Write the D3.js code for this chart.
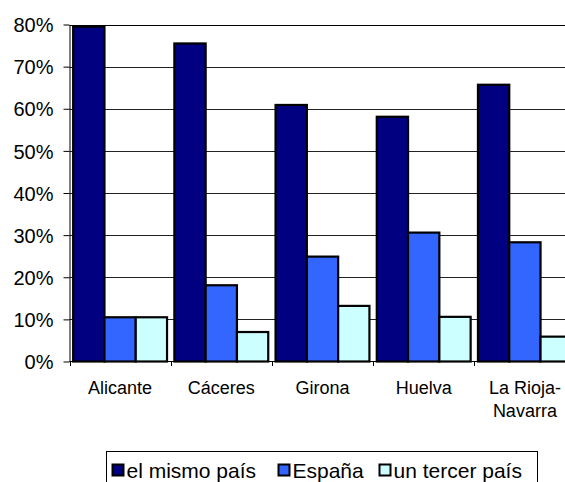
<!DOCTYPE html>
<html>
<head>
<meta charset="utf-8">
<script src="https://cdn.jsdelivr.net/npm/d3@7"></script>
<style>
  body { margin: 0; background: #fff; }
  text { font-family: Arial, "Liberation Sans", sans-serif; fill: #000; }
</style>
</head>
<body>
<div id="canvas"></div>
<script>
// data
var regions = ['Alicante', 'Cáceres', 'Girona', 'Huelva', 'La Rioja-\nNavarra'];
var series = ['el mismo país', 'España', 'un tercer país'];
var mismoPais = [0.795, 0.755, 0.609, 0.581, 0.657];
var espana = [0.105, 0.181, 0.249, 0.306, 0.283];
var tercerPais = [0.105, 0.070, 0.132, 0.106, 0.059];
var yTicks = [0, 0.1, 0.2, 0.3, 0.4, 0.5, 0.6, 0.7, 0.8];
var colors = ['#000080', '#3366ff', '#ccffff'];

var values = [mismoPais, espana, tercerPais];
var W = 565, H = 482;

var svg = d3.select('#canvas').append('svg')
    .attr('width', W)
    .attr('height', H);

var scaleX = d3.scaleBand()
    .domain(regions)
    .range([69.5, 575.5]);

var scaleS = d3.scaleBand()
    .domain(series)
    .range([0, scaleX.bandwidth()])
    .paddingOuter(0.117);

var scaleY = d3.scaleLinear()
    .domain([0, 0.8])
    .range([361.5, 24.5]);

// gridlines
svg.append('g').selectAll('line').data(yTicks.slice(1)).enter()
    .append('line')
    .attr('x1', 69.5).attr('x2', W)
    .attr('y1', function(d) { return Math.round(scaleY(d)) + 0.5; })
    .attr('y2', function(d) { return Math.round(scaleY(d)) + 0.5; })
    .style('stroke', function(d) { return d === 0.8 ? '#000' : '#222'; })
    .style('stroke-width', 1);

// bars
var groups = svg.append('g').selectAll('g').data(regions).enter()
    .append('g')
    .attr('transform', function(d) { return 'translate(' + scaleX(d) + ',0)'; });

groups.selectAll('rect')
    .data(function(d, i) { return series.map(function(s, j) { return {s: s, v: values[j][i], j: j}; }); })
    .enter().append('rect')
    .attr('x', function(d) { return scaleS(d.s); })
    .attr('width', scaleS.bandwidth())
    .attr('y', function(d) { return scaleY(d.v); })
    .attr('height', function(d) { return scaleY(0) - scaleY(d.v); })
    .style('fill', function(d) { return colors[d.j]; })
    .style('stroke', '#000')
    .style('stroke-width', 2.2);

// y axis
var yAxis = d3.axisLeft(scaleY)
    .tickValues(yTicks)
    .tickFormat(d3.format('.0%'))
    .tickSizeInner(6).tickSizeOuter(0).tickPadding(10);

var gy = svg.append('g')
    .attr('transform', 'translate(69.5,0)')
    .call(yAxis);
gy.select('.domain').style('stroke', '#000');
gy.selectAll('.tick line').style('stroke', '#000');
gy.selectAll('text').style('font-size', '20px').style('font-family', 'Arial, "Liberation Sans", sans-serif')
    .attr('dy', '0.36em');

// x axis
var boundaries = regions.map(function(d) { return scaleX(d); });
svg.append('line')
    .attr('x1', 69.5).attr('x2', W)
    .attr('y1', 361.5).attr('y2', 361.5)
    .style('stroke', '#000');
svg.append('g').selectAll('line').data(boundaries).enter()
    .append('line')
    .attr('x1', function(d) { return Math.round(d) + 0.5; })
    .attr('x2', function(d) { return Math.round(d) + 0.5; })
    .attr('y1', 361.5).attr('y2', 366)
    .style('stroke', '#000');

var xl = svg.append('g').selectAll('text').data(regions).enter()
    .append('text')
    .attr('x', function(d) { return scaleX(d) + scaleX.bandwidth() / 2; })
    .attr('y', 394)
    .attr('text-anchor', 'middle')
    .style('font-size', '18px');
xl.selectAll('tspan')
    .data(function(d) { return d.split('\n'); })
    .enter().append('tspan')
    .attr('x', function() { return d3.select(this.parentNode).attr('x'); })
    .attr('dy', function(d, i) { return i ? 23 : 0; })
    .text(function(d) { return d; });

// legend
var leg = svg.append('g');
leg.append('rect')
    .attr('x', 106.5).attr('y', 451.5)
    .attr('width', 431).attr('height', 40)
    .style('fill', '#fff')
    .style('stroke', '#000');

var legX = [112.5, 278.5, 379.5];
series.forEach(function(s, i) {
    leg.append('rect')
        .attr('x', legX[i]).attr('y', 464.5)
        .attr('width', 11).attr('height', 11)
        .style('fill', colors[i])
        .style('stroke', '#000')
        .style('stroke-width', 2);
    leg.append('text')
        .attr('x', legX[i] + 14).attr('y', 477.5)
        .style('font-size', '21px')
        .text(s);
});
</script>
</body>
</html>
